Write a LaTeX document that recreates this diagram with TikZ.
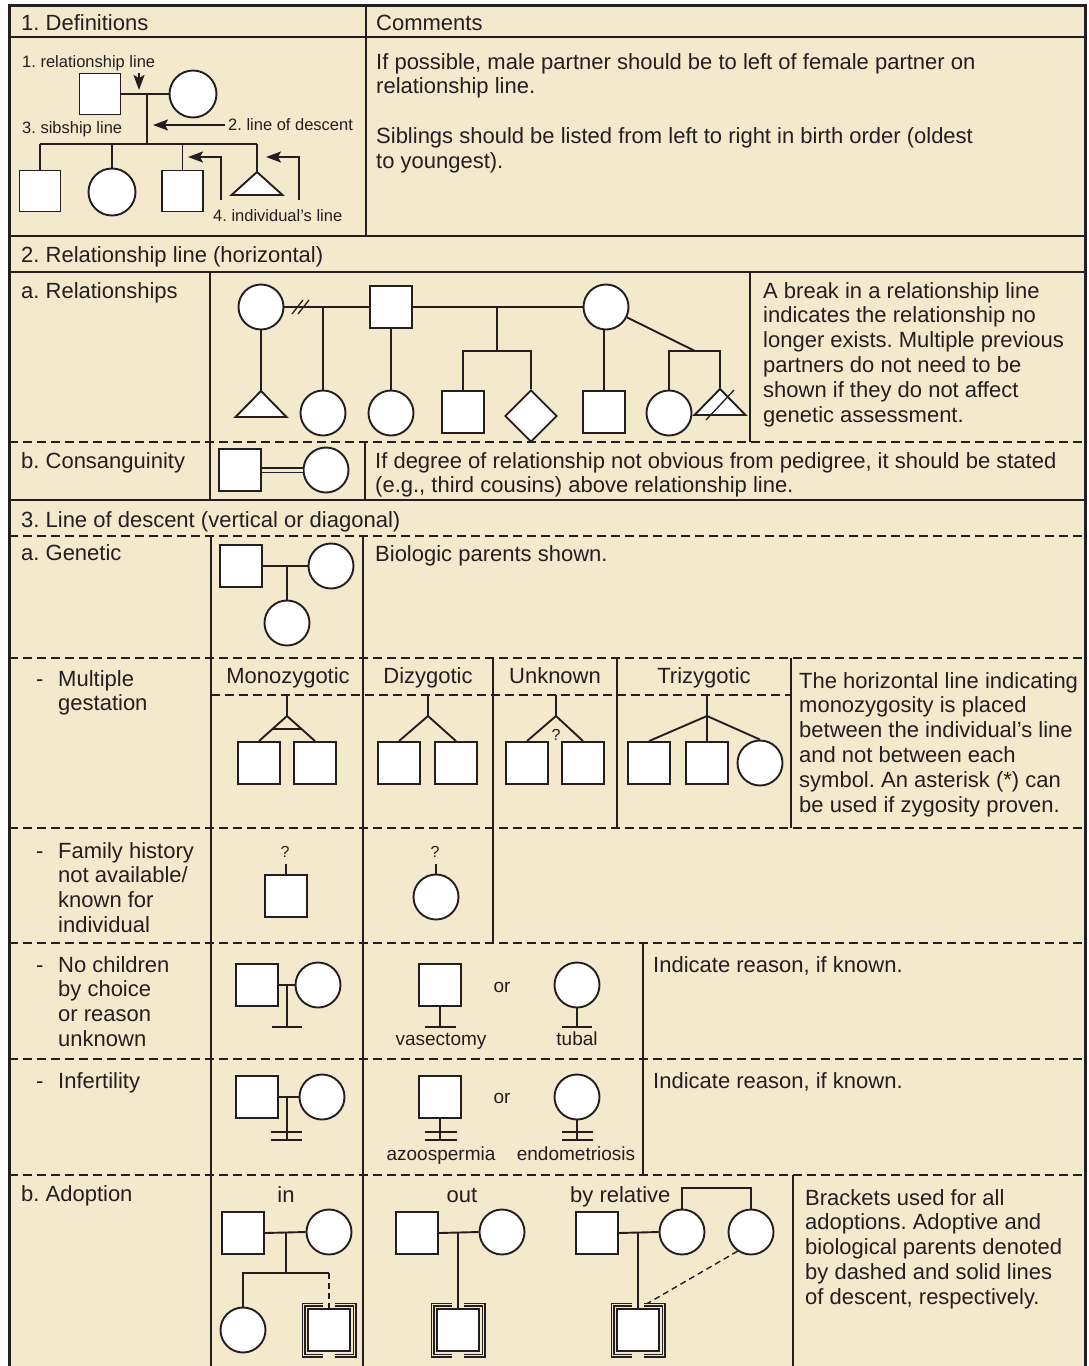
\documentclass[tikz,border=0pt]{standalone}
\usepackage{fontspec}
\setmainfont{Liberation Sans}
\usetikzlibrary{shapes.geometric,arrows.meta}
\definecolor{bg}{HTML}{F3E9CC}
\definecolor{ink}{HTML}{231F20}
\frenchspacing
\begin{document}
\begin{tikzpicture}[x=1pt,y=-1pt,
  every node/.style={font=\fontsize{22}{24.8}\selectfont, text=ink, inner sep=0pt},
  sq/.style={draw=ink, fill=white, rectangle, minimum size=42pt, inner sep=0pt, line width=1.9pt},
  ci/.style={draw=ink, fill=white, circle, minimum size=45pt, inner sep=0pt, line width=1.9pt},
  dm/.style={draw=ink, fill=white, diamond, minimum size=52pt, inner sep=0pt, line width=1.9pt},
  sym/.style={draw=ink, fill=white, line width=1.9pt, line join=miter},
  ln/.style={draw=ink, line width=1.9pt},
  dln/.style={draw=ink, line width=1.4pt, dash pattern=on 6pt off 4pt},
  grid/.style={draw=ink, line width=2.7pt},
  dgrid/.style={draw=ink, line width=2.5pt, dash pattern=on 9pt off 5pt},
  brk/.style={draw=ink, line width=1.1pt, double=bg, double distance=1.8pt},
  arr/.style={draw=ink, line width=1.9pt, -{Stealth[length=15pt,width=11pt,inset=3pt]}},
  txt/.style={anchor=base west},
  ctxt/.style={anchor=base},
  small/.style={font=\fontsize{16.5}{19}\selectfont},
  lab/.style={font=\fontsize{19}{22}\selectfont},
  qm/.style={font=\fontsize{16}{18}\selectfont, anchor=base}
]
\useasboundingbox (0,0) rectangle (1089,1366);
\fill[white] (0,0) rectangle (1089,1366);
\fill[bg] (9,5) rectangle (1085,1366);

% ---------- grid ----------
\draw[grid] (9,37) -- (1085,37);
\draw[grid] (9,236) -- (1085,236);
\draw[grid] (9,272) -- (1085,272);
\draw[grid] (9,500) -- (1085,500);
\draw[dgrid] (9,442) -- (1085,442);
\draw[dgrid] (9,536) -- (1085,536);
\draw[dgrid] (9,658) -- (1085,658);
\draw[dgrid] (211,695) -- (791,695);
\draw[dgrid] (9,828) -- (1085,828);
\draw[dgrid] (9,943) -- (1085,943);
\draw[dgrid] (9,1059) -- (1085,1059);
\draw[dgrid] (9,1175) -- (1085,1175);
\draw[grid] (366,5) -- (366,236);
\draw[grid] (210,272) -- (210,500);
\draw[grid] (750,272) -- (750,442);
\draw[grid] (365,442) -- (365,500);
\draw[grid] (211,536) -- (211,1366);
\draw[grid] (363,536) -- (363,1366);
\draw[grid] (493,658) -- (493,943);
\draw[grid] (617,658) -- (617,828);
\draw[grid] (791,658) -- (791,828);
\draw[grid] (643,943) -- (643,1175);
\draw[grid] (793,1175) -- (793,1366);
\draw[draw=ink, line width=3pt] (9,1366) -- (9,5) -- (1085,5) -- (1085,1366);

% ---------- texts ----------
\node[txt] (h1) at (21,30.5) {1. Definitions};
\node[txt] (h1c) at (376,30.5) {Comments};
\node[txt] (defc) at (376,69) {\parbox[t]{705pt}{\raggedright If possible, male partner should be to left of female partner on\\relationship line.\\[24.8pt]Siblings should be listed from left to right in birth order (oldest\\to youngest).}};
\node[txt] (h2) at (21,262) {2. Relationship line (horizontal)};
\node[txt] (l2a) at (21,298) {a. Relationships};
\node[txt] (c2a) at (763,298) {\parbox[t]{320pt}{\raggedright A break in a relationship line\\indicates the relationship no\\longer exists. Multiple previous\\partners do not need to be\\shown if they do not affect\\genetic assessment.}};
\node[txt] (l2b) at (21,468) {b. Consanguinity};
\node[txt] (c2b) at (375,468) {\parbox[t]{710pt}{\raggedright If degree of relationship not obvious from pedigree, it should be stated\\(e.g., third cousins) above relationship line.}};
\node[txt] (h3) at (21,527) {3. Line of descent (vertical or diagonal)};
\node[txt] (l3a) at (21,560) {a. Genetic};
\node[txt] (c3a) at (375,561) {Biologic parents shown.};
\node[txt] (dashm) at (36,686) {-};
\node[txt] (l3m) at (58,686) {\parbox[t]{150pt}{\raggedright Multiple\\gestation}};
\node[txt] (dashf) at (36,858) {-};
\node[txt] (l3f) at (58,858) {\parbox[t]{150pt}{\raggedright Family history\\not available/\\known for\\individual}};
\node[txt] (dashn) at (36,972) {-};
\node[txt] (l3n) at (58,972) {\parbox[t]{150pt}{\raggedright No children\\by choice\\or reason\\unknown}};
\node[txt] (dashi) at (36,1088) {-};
\node[txt] (l3i) at (58,1088) {Infertility};
\node[txt] (l3b) at (21,1201) {b. Adoption};
\node[txt] (cmg) at (799,688) {\parbox[t]{290pt}{\raggedright The horizontal line indicating\\monozygosity is placed\\between the individual’s line\\and not between each\\symbol. An asterisk (*) can\\be used if zygosity proven.}};
\node[txt] (cnc) at (653,972) {Indicate reason, if known.};
\node[txt] (cin) at (653,1088) {Indicate reason, if known.};
\node[txt] (cad) at (805,1205) {\parbox[t]{280pt}{\raggedright Brackets used for all\\adoptions. Adoptive and\\biological parents denoted\\by dashed and solid lines\\of descent, respectively.}};
\node[ctxt] (smz) at (288,683) {Monozygotic};
\node[ctxt] (sdz) at (428,683) {Dizygotic};
\node[ctxt] (sun) at (555,683) {Unknown};
\node[ctxt] (stz) at (704,683) {Trizygotic};
\node[ctxt] (sin) at (286,1202) {in};
\node[ctxt] (sout) at (462,1202) {out};
\node[txt] (srel) at (570,1202) {by relative};

% ---------- 1. Definitions diagram ----------
\node[sq, minimum size=41pt] (dS) at (100,94) {};
\node[ci, minimum size=47pt] (dC) at (193,94) {};
\draw[ln] (dS.east) -- (dC.west);
\coordinate (dJ) at (147,94);
\coordinate (dK) at (147,144);
\draw[ln] (dJ) -- (dK);
\coordinate (dL) at (40,144);
\coordinate (dR) at (257,144);
\draw[ln] (dL) -- (dR);
\node[sq, minimum size=41pt] (d1) at (40,191) {};
\node[ci, minimum size=47pt] (d2) at (112,192) {};
\node[sq, minimum size=41pt] (d3) at (182.5,191) {};
\coordinate (d4) at (257,172);
\draw[sym] (d4) -- ++(25.5,23) -- ++(-51,0) -- cycle;
\draw[ln] (dL) -- (d1.north);
\draw[ln] (d2.north |- dL) -- (d2.north);
\draw[ln] (d3.north |- dL) -- (d3.north);
\draw[ln] (dR) -- (d4);
\node[txt, small] (lr1) at (22,67) {1. relationship line};
\node[txt, small] (lr2) at (22,133) {3. sibship line};
\node[txt, small] (lr3) at (228,130) {2. line of descent};
\node[txt, small] (lr4) at (213,221) {4. individual’s line};
\coordinate (a1s) at (139,73);
\coordinate (a1e) at (139,90);
\draw[arr] (a1s) -- (a1e);
\coordinate (a2s) at (225,125);
\coordinate (a2e) at (153,125);
\draw[arr] (a2s) -- (a2e);
\coordinate (a3s) at (221,200);
\coordinate (a3e) at (188,157);
\draw[arr] (a3s) |- (a3e);
\coordinate (a4s) at (299,200);
\coordinate (a4e) at (266,157);
\draw[arr] (a4s) |- (a4e);

% ---------- 2a. Relationships ----------
\node[ci] (rA) at (261,307) {};
\node[sq] (rB) at (391,307) {};
\node[ci] (rC) at (606,307) {};
\draw[ln] (rA.east) -- (rB.west);
\draw[ln] (rB.east) -- (rC.west);
\draw[draw=ink, line width=1.3pt] (292,314) -- (303,300) (298,314) -- (309,300);
\coordinate (rt1) at (261,391);
\draw[sym] (rt1) -- ++(25.5,26) -- ++(-51,0) -- cycle;
\draw[ln] (rA.south) -- (rt1);
\coordinate (rJ1) at (323,307);
\node[ci] (rc1) at (323,413) {};
\draw[ln] (rJ1) -- (rc1.north);
\node[ci] (rc2) at (391,413) {};
\draw[ln] (rB.south) -- (rc2.north);
\coordinate (rJ2) at (497,307);
\coordinate (rK2) at (497,351);
\draw[ln] (rJ2) -- (rK2);
\node[sq] (rc3) at (463,412) {};
\node[dm] (rc4) at (531,416) {};
\draw[ln] (rc3.north) |- (rK2) -| (rc4.north);
\node[sq] (rc5) at (604,412) {};
\draw[ln] (rC.south -| rc5.north) -- (rc5.north);
\coordinate (rD) at (695,351);
\draw[ln] (rC) -- (rD);
\node[ci] (rc6) at (669,413) {};
\coordinate (rt2) at (720,389);
\draw[sym] (rt2) -- ++(25.5,26) -- ++(-51,0) -- cycle;
\draw[ln] (rc6.north) |- (rD) -| (rt2);
\draw[draw=ink, line width=1.3pt] (706,420) -- (734,390);

% ---------- 2b. Consanguinity ----------
\node[sq] (cS) at (240,470) {};
\node[ci] (cC) at (326,470) {};
\draw[draw=ink, line width=1.5pt, double=bg, double distance=3pt] (cS.east) -- (cC.west);

% ---------- 3a. Genetic ----------
\node[sq] (gS) at (241,566) {};
\node[ci] (gC) at (331,566) {};
\draw[ln] (gS.east) -- (gC.west);
\coordinate (gJ) at (287,566);
\node[ci] (gK) at (287,623) {};
\draw[ln] (gJ) -- (gK.north);

% ---------- Multiple gestation ----------
\coordinate (mT) at (287,695);
\coordinate (mA) at (287,716);
\node[sq] (m1) at (259,763) {};
\node[sq] (m2) at (315,763) {};
\draw[ln] (mT) -- (mA);
\draw[ln, line join=miter] (m1.north) -- (mA) -- (m2.north);
\coordinate (mbl) at (273,729);
\coordinate (mbr) at (301,729);
\draw[ln] (mbl) -- (mbr);
\coordinate (zT) at (428,695);
\coordinate (zA) at (428,716);
\node[sq] (z1) at (399,763) {};
\node[sq] (z2) at (456,763) {};
\draw[ln] (zT) -- (zA);
\draw[ln, line join=miter] (z1.north) -- (zA) -- (z2.north);
\coordinate (uT) at (556,695);
\coordinate (uA) at (556,716);
\node[sq] (u1) at (527,763) {};
\node[sq] (u2) at (583,763) {};
\draw[ln] (uT) -- (uA);
\draw[ln, line join=miter] (u1.north) -- (uA) -- (u2.north);
\node[qm] (uq) at (556,740) {?};
\coordinate (tT) at (707,695);
\coordinate (tA) at (707,716);
\node[sq] (t1) at (649,763) {};
\node[sq] (t2) at (707,763) {};
\node[ci] (t3) at (760,763) {};
\draw[ln] (tT) -- (tA);
\draw[ln, line join=miter] (t1.north) -- (tA) -- (t3.north);
\draw[ln] (tA) -- (t2.north);

% ---------- Family history ----------
\node[sq] (f1) at (286,896) {};
\coordinate (f1t) at (286,864);
\draw[ln] (f1t) -- (f1.north);
\node[qm] (f1q) at (285,857) {?};
\node[ci] (f2) at (436,897) {};
\coordinate (f2t) at (436,864);
\draw[ln] (f2t) -- (f2.north);
\node[qm] (f2q) at (435,857) {?};

% ---------- No children ----------
\node[sq] (n1) at (257,985) {};
\node[ci] (n2) at (318,985) {};
\draw[ln] (n1.east) -- (n2.west);
\coordinate (nJ) at (287,985);
\coordinate (nK) at (287,1027);
\draw[ln] (nJ) -- (nK);
\draw[ln] (272,1027) -- (302,1027);
\node[sq] (n3) at (440,985) {};
\coordinate (n3b) at (440,1027);
\draw[ln] (n3.south) -- (n3b);
\draw[ln] (425,1027) -- (456,1027);
\node[ci] (n4) at (577,985) {};
\coordinate (n4b) at (577,1027);
\draw[ln] (n4.south) -- (n4b);
\draw[ln] (562,1027) -- (592,1027);
\node[ctxt, lab] (nor) at (502,992) {or};
\node[ctxt, lab] (nvas) at (441,1045) {vasectomy};
\node[ctxt, lab] (ntub) at (577,1045) {tubal};

% ---------- Infertility ----------
\node[sq] (i1) at (257,1097) {};
\node[ci] (i2) at (322,1097) {};
\draw[ln] (i1.east) -- (i2.west);
\coordinate (iJ) at (287,1097);
\coordinate (iK) at (287,1140);
\draw[ln] (iJ) -- (iK);
\draw[ln] (271,1132) -- (302,1132) (271,1140) -- (302,1140);
\node[sq] (i3) at (440,1097) {};
\coordinate (i3b) at (440,1140);
\draw[ln] (i3.south) -- (i3b);
\draw[ln] (425,1132) -- (457,1132) (425,1140) -- (457,1140);
\node[ci] (i4) at (577,1097) {};
\coordinate (i4b) at (577,1140);
\draw[ln] (i4.south) -- (i4b);
\draw[ln] (562,1132) -- (593,1132) (562,1140) -- (593,1140);
\node[ctxt, lab] (ior) at (502,1103) {or};
\node[ctxt, lab] (iaz) at (441,1160) {azoospermia};
\node[ctxt, lab] (ien) at (576,1160) {endometriosis};

% ---------- Adoption ----------
\node[sq] (ai1) at (243,1233) {};
\node[ci] (ai2) at (329,1232) {};
\draw[ln] (ai1.east) -- (ai2.west);
\coordinate (aiJ) at (286,1232);
\coordinate (aiK) at (286,1273);
\draw[ln] (aiJ) -- (aiK);
\node[ci] (ai3) at (243,1330) {};
\node[sq] (ai4) at (329,1330) {};
\coordinate (aiL) at (243,1273);
\coordinate (aiR) at (329,1273);
\draw[ln] (ai3.north) -- (aiL) -- (aiR);
\draw[dln] (aiR) -- (ai4.north);
\draw[brk] (323,1304.5) -- (303.5,1304.5) -- (303.5,1355.5) -- (323,1355.5);
\draw[brk] (335,1304.5) -- (354.5,1304.5) -- (354.5,1355.5) -- (335,1355.5);
\node[sq] (ao1) at (417,1233) {};
\node[ci] (ao2) at (502,1232) {};
\draw[ln] (ao1.east) -- (ao2.west);
\coordinate (aoJ) at (458,1232);
\node[sq] (ao3) at (458,1330) {};
\draw[ln] (aoJ) -- (ao3.north);
\draw[brk] (452,1304.5) -- (432.5,1304.5) -- (432.5,1355.5) -- (452,1355.5);
\draw[brk] (464,1304.5) -- (483.5,1304.5) -- (483.5,1355.5) -- (464,1355.5);
\node[sq] (ar1) at (597,1233) {};
\node[ci] (ar2) at (682,1232) {};
\node[ci] (ar3) at (751,1232) {};
\draw[ln] (ar1.east) -- (ar2.west);
\coordinate (arJ) at (638,1232);
\node[sq] (ar4) at (638,1330) {};
\draw[ln] (arJ) -- (ar4.north);
\coordinate (arL) at (682,1188);
\coordinate (arR) at (751,1188);
\draw[ln] (ar2.north) -- (arL) -- (arR) -- (ar3.north);
\coordinate (arD) at (643,1306);
\draw[dln] (ar3.235) -- (arD);
\draw[brk] (632,1304.5) -- (612.5,1304.5) -- (612.5,1355.5) -- (632,1355.5);
\draw[brk] (644,1304.5) -- (663.5,1304.5) -- (663.5,1355.5) -- (644,1355.5);
\end{tikzpicture}
\end{document}
